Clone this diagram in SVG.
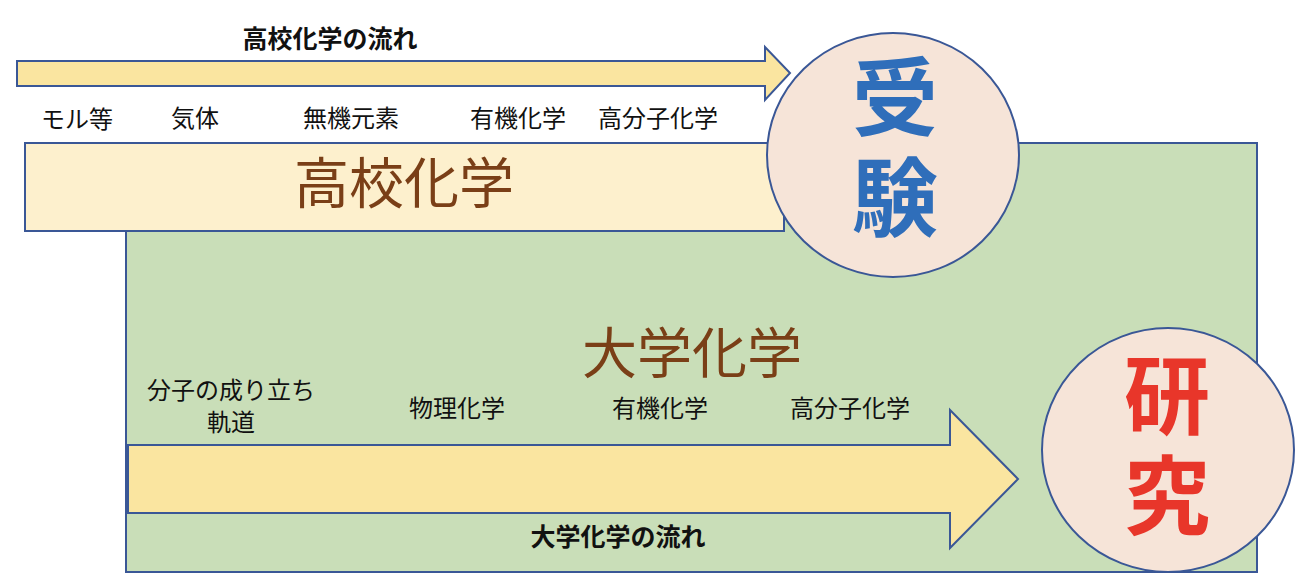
<svg xmlns="http://www.w3.org/2000/svg" width="1306" height="586" viewBox="0 0 1306 586">
<style>
.lbl{font-family:"Noto Sans CJK JP","Noto Sans CJK SC",sans-serif;font-size:24px;fill:#111;text-anchor:middle}
.ttl{font-family:"Noto Sans CJK JP","Noto Sans CJK SC",sans-serif;font-size:25px;font-weight:bold;fill:#111;text-anchor:middle}
.big{font-family:"Noto Sans CJK JP","Noto Sans CJK SC",sans-serif;font-size:55px;fill:#7A3F17;text-anchor:middle}
.goal{font-family:"Noto Sans CJK JP","Noto Sans CJK SC",sans-serif;font-size:86px;font-weight:bold;writing-mode:vertical-rl;letter-spacing:14px;text-anchor:start}
.edge{stroke:#3A5796;stroke-width:2}
</style>
<rect width="1306" height="586" fill="#fff"/>
<g id="univ">
<rect x="126" y="143" width="1131" height="429" fill="#C9DEB8" class="edge"/>
<text class="big" x="692" y="373">大学化学</text>
</g>
<g id="highschool">
<rect x="25" y="143" width="759" height="88" fill="#FDF0CD" class="edge"/>
<text class="big" x="404" y="203">高校化学</text>
</g>
<g id="connectors">
<polygon points="17,61 765,61 765,47 790,73 765,100 765,86 17,86" fill="#FAE5A0" class="edge"/>
<polygon points="128,445 950,445 950,410 1018,479 950,548 950,513 128,513" fill="#FAE5A0" class="edge"/>
</g>
<g id="exam">
<ellipse cx="893" cy="155" rx="126" ry="122" fill="#F6E4D8" class="edge"/>
<text class="goal" x="895" y="54" fill="#2F6EBA">受験</text>
</g>
<g id="research">
<ellipse cx="1168" cy="450" rx="126" ry="122" fill="#F6E4D8" class="edge"/>
<text class="goal" x="1167" y="352" fill="#E8362A">研究</text>
</g>
<g id="hs-labels">
<text class="ttl" x="330" y="48">高校化学の流れ</text>
<text class="lbl" x="77" y="128">モル等</text>
<text class="lbl" x="195" y="127">気体</text>
<text class="lbl" x="351" y="127">無機元素</text>
<text class="lbl" x="518" y="127">有機化学</text>
<text class="lbl" x="658" y="127">高分子化学</text>
</g>
<g id="univ-labels">
<text class="lbl" x="231" y="399">分子の成り立ち</text>
<text class="lbl" x="231" y="431">軌道</text>
<text class="lbl" x="457" y="417">物理化学</text>
<text class="lbl" x="660" y="417">有機化学</text>
<text class="lbl" x="850" y="417">高分子化学</text>
<text class="ttl" x="618" y="546">大学化学の流れ</text>
</g>
</svg>
